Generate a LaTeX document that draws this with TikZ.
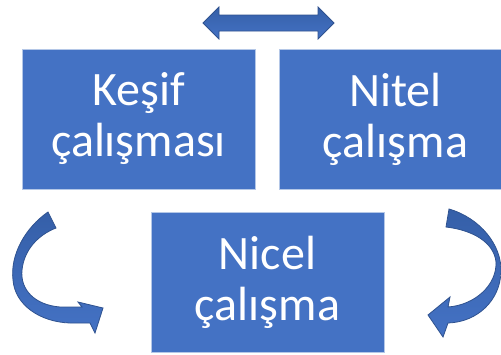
\documentclass[tikz,border=0pt]{standalone}
\usepackage{fontspec}
\setmainfont{Carlito}
\definecolor{boxblue}{HTML}{4472C4}
\definecolor{boxedge}{HTML}{B4C7E7}
\definecolor{arrowtop}{HTML}{355FA8}
\definecolor{arrowbot}{HTML}{4472C4}
\definecolor{arrowedge}{HTML}{2F528F}
\tikzset{
  box/.style={fill=boxblue, draw=boxedge, line width=0.5pt,
    minimum width=233pt, minimum height=140pt, inner sep=0pt,
    text=white, align=center, font=\fontsize{48}{51}\selectfont},
  blockarrow/.style={top color=arrowtop, bottom color=arrowbot,
    draw=arrowedge, line width=0.8pt, line join=miter}
}
\begin{document}
\begin{tikzpicture}[x=1pt,y=-1pt]
\useasboundingbox (0,0) rectangle (501,354);
\clip (0,0) rectangle (501,354);
\fill[white] (0,0) rectangle (501,354);
% boxes
\node[box] (k) at (138.5,119) {Keşif\\çalışması};
\node[box] (n) at (395.5,119) {Nitel\\çalışma};
\node[box] (c) at (267.5,282.5) {Nicel\\çalışma};
% top double arrow
\shade[blockarrow] (203,23) -- (219,7) -- (219,15) -- (318,15) -- (318,7)
  -- (334,23) -- (318,39) -- (318,31) -- (219,31) -- (219,39) -- cycle;
% left curved arrow
\shade[blockarrow] (48,212) .. controls (25,228) and (10,255) .. (13,280)
  .. controls (15,305) and (40,322) .. (70,323) -- (90,323) -- (95,333)
  -- (103,308) -- (78,302) -- (82,307) -- (60,307)
  .. controls (35,305) and (20,290) .. (22,270)
  .. controls (24,250) and (38,235) .. (56,228) -- cycle;
% right curved arrow
\shade[blockarrow] (449,209) .. controls (480,218) and (502,245) .. (501,272)
  .. controls (500,300) and (478,322) .. (448,323) -- (443,337) -- (428,315)
  -- (450,297) -- (448,307)
  .. controls (475,305) and (497,285) .. (496,262)
  .. controls (494,242) and (472,230) .. (446,227) -- cycle;
\end{tikzpicture}
\end{document}
